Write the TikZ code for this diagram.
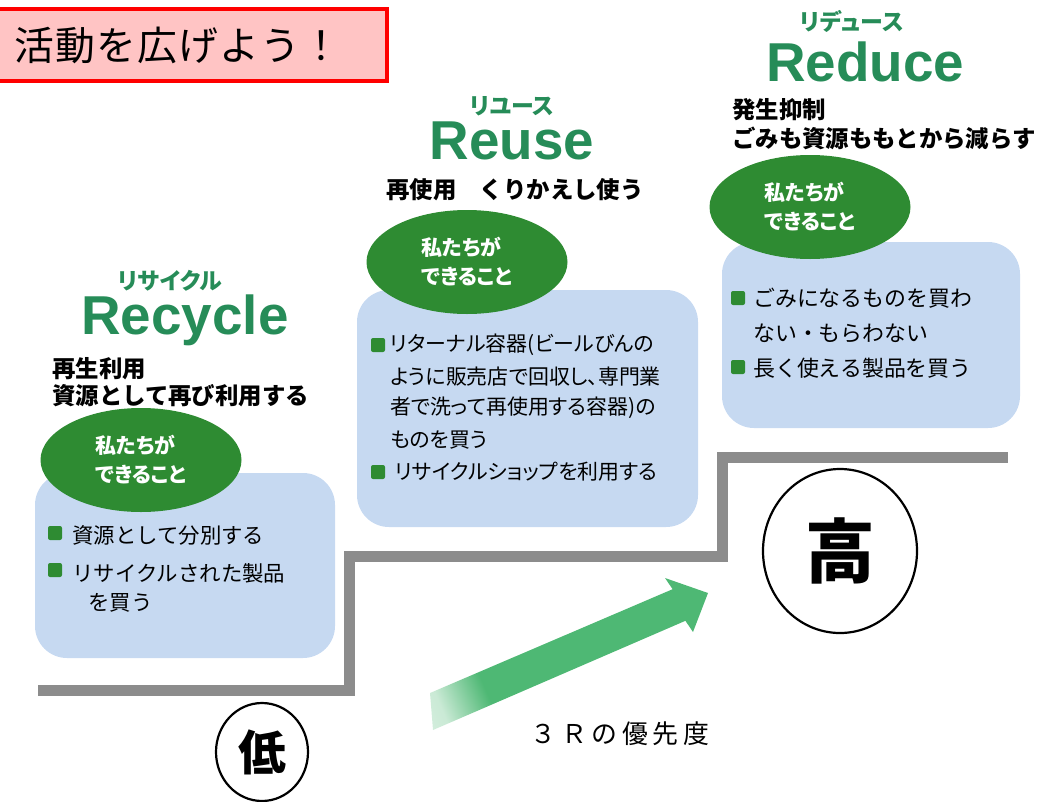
\documentclass[tikz,border=0pt]{standalone}
\usepackage{fontspec}
\setmainfont{Noto Sans CJK JP}
\newfontfamily\jpprop{Noto Sans CJK JP}[RawFeature=+palt]
\newfontfamily\headfont{Liberation Sans}
\usepackage{tikz}
\usetikzlibrary{shapes,positioning}

\definecolor{boxblue}{RGB}{198,217,241}
\definecolor{leafgreen}{RGB}{46,139,50}
\definecolor{headgreen}{RGB}{38,140,88}
\definecolor{stairgray}{RGB}{140,140,140}
\definecolor{arrowgreen}{RGB}{78,184,116}
\definecolor{titlepink}{RGB}{255,196,196}

\pgfdeclarehorizontalshading{arrowfade}{100bp}{color(0bp)=(white); color(21bp)=(white!70!arrowgreen); color(31bp)=(arrowgreen); color(100bp)=(arrowgreen)}

\tikzset{
  stepbox/.style={rectangle,rounded corners=32bp,fill=boxblue,inner sep=0pt},
  badge/.style={ellipse,fill=leafgreen,minimum width=201bp,minimum height=104bp,inner sep=0pt,
    text=white,align=left,font=\jpprop\fontsize{21}{29}\selectfont\bfseries},
  dot/.style={rectangle,fill=leafgreen,minimum size=14bp,inner sep=0pt,rounded corners=2bp},
  item/.style={anchor=west,inner sep=0pt,font=\fontsize{21.5}{26}\selectfont},
  itemp/.style={anchor=west,inner sep=0pt,font=\jpprop\fontsize{21}{26}\selectfont},
  motto/.style={anchor=west,inner sep=0pt,font=\fontsize{23.5}{28}\selectfont\bfseries},
  kana/.style={inner sep=0pt,text=headgreen,font=\jpprop\fontsize{23}{25}\selectfont\bfseries},
  rword/.style={anchor=base,inner sep=0pt,text height=39bp,text depth=11bp,text=headgreen,
    font=\headfont\fontsize{55}{60}\selectfont\bfseries},
  level/.style={ellipse,draw,line width=2.2bp,inner sep=0pt,font=\bfseries}
}

\begin{document}
\begin{tikzpicture}

\useasboundingbox (0bp,0bp) rectangle (1045bp,-802bp);

% title
\node (title) at (-5bp,-45bp)[anchor=west,draw=red,line width=4bp,fill=titlepink,minimum height=72bp,
  text width=356bp,inner xsep=17bp,align=left,font=\fontsize{40}{44}\selectfont\addfontfeature{LetterSpace=3}] {活動を広げよう！};

% stairs
\draw [stairgray,line width=11bp] (38bp,-690bp) -- (349bp,-690bp) -- (349bp,-556bp) -- (722bp,-556bp) -- (722bp,-457bp) -- (1008bp,-457bp);

% priority arrow
\shade [shading=arrowfade,shading angle=23] (430bp,-693bp) -- (672.6bp,-589.2bp) -- (665bp,-578bp) -- (708bp,-593bp)
  -- (693bp,-632bp) -- (685.4bp,-620.8bp) -- (433bp,-730bp) -- cycle;
\node (prio) at (620bp,-734bp)[text=black,font=\fontsize{26}{30}\selectfont\addfontfeature{LetterSpace=18}] {３Ｒの優先度};

% Recycle
\node (rcK) at (170bp,-281bp)[kana] {リサイクル};
\node (rcW) at (185bp,-334bp)[rword] {Recycle};
\node (rcM1) at (52bp,-369bp)[motto] {再生利用};
\node (rcM2) at (52bp,-396bp)[motto] {資源として再び利用する};
\node (rcBox) at (185bp,-565.5bp)[stepbox,minimum width=300bp,minimum height=185bp] {};
\node (rcBadge) at (141bp,-460bp)[badge] {私たちが\\できること};
\node (rcD1) at (55bp,-533bp)[dot] {};
\node (rcI1) at (72bp,-535bp)[item] {資源として分別する};
\node (rcD2) at (55bp,-570bp)[dot] {};
\node (rcI2) at (72bp,-573bp)[item] {リサイクルされた製品};
\node (rcI3) at (88bp,-603bp)[item] {を買う};

% Reuse
\node (ruK) at (512bp,-106bp)[kana] {リユース};
\node (ruW) at (512bp,-159bp)[rword] {Reuse};
\node (ruM) at (386bp,-190bp)[motto] {再使用　くりかえし使う};
\node (ruBox) at (527.5bp,-408.5bp)[stepbox,minimum width=341bp,minimum height=237bp] {};
\node (ruBadge) at (467bp,-262bp)[badge] {私たちが\\できること};
\node (ruD1) at (378bp,-345bp)[dot] {};
\node (ruI1) at (390bp,-345bp)[itemp] {リターナル容器(ビールびんの};
\node (ruI2) at (390bp,-377bp)[itemp] {ように販売店で回収し、専門業};
\node (ruI3) at (390bp,-408bp)[itemp] {者で洗って再使用する容器)の};
\node (ruI4) at (390bp,-440bp)[itemp] {ものを買う};
\node (ruD2) at (378bp,-472bp)[dot] {};
\node (ruI5) at (395bp,-472bp)[itemp] {リサイクルショップを利用する};

% Reduce
\node (rdK) at (852bp,-21bp)[kana] {リデュース};
\node (rdW) at (865bp,-81bp)[rword] {Reduce};
\node (rdM1) at (732bp,-110bp)[motto] {発生抑制};
\node (rdM2) at (732bp,-138bp)[motto] {ごみも資源ももとから減らす};
\node (rdBox) at (871bp,-335bp)[stepbox,minimum width=298bp,minimum height=186bp] {};
\node (rdBadge) at (810bp,-207bp)[badge] {私たちが\\できること};
\node (rdD1) at (738bp,-298bp)[dot] {};
\node (rdI1) at (753bp,-298bp)[item,font=\fontsize{22}{26}\selectfont] {ごみになるものを買わ};
\node (rdI2) at (753bp,-333bp)[item,font=\fontsize{22}{26}\selectfont] {ない・もらわない};
\node (rdD2) at (738bp,-367bp)[dot] {};
\node (rdI3) at (753bp,-368bp)[item,font=\fontsize{22}{26}\selectfont] {長く使える製品を買う};

% low / high
\node (low) at (262bp,-752bp)[level,minimum width=92bp,minimum height=98bp,font=\fontsize{48}{50}\selectfont\bfseries] {低};
\node (high) at (840bp,-551bp)[level,minimum width=154bp,minimum height=164bp,font=\fontsize{70}{72}\selectfont\bfseries] {高};

\end{tikzpicture}
\end{document}
